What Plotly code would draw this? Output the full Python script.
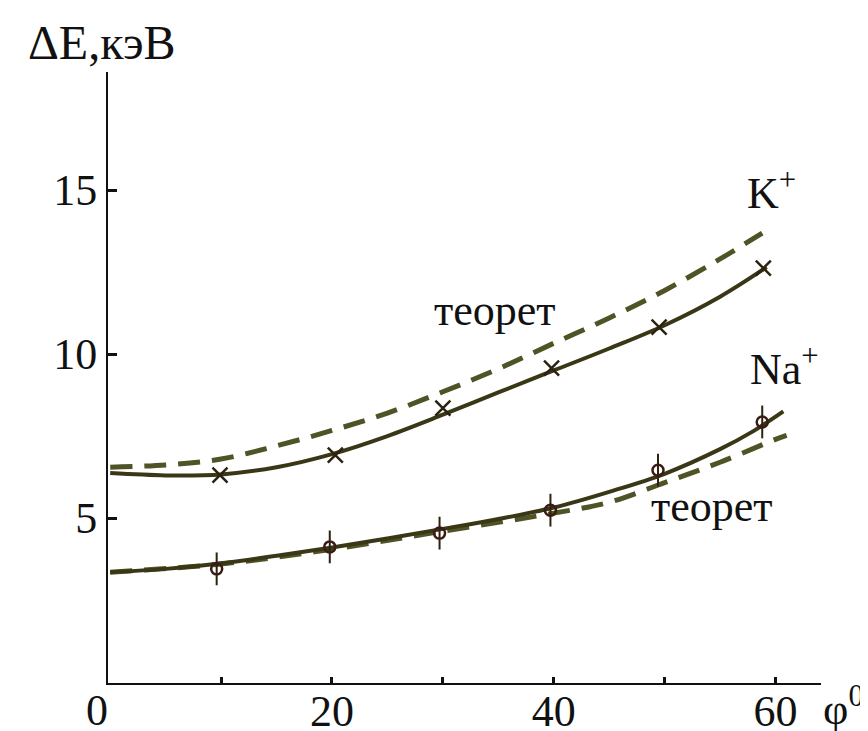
import plotly.graph_objects as go

# ---- data ----
k_exp_x = [9.9, 20.3, 30.0, 39.8, 49.5, 58.9]
k_exp_y = [6.31, 6.92, 8.35, 9.57, 10.82, 12.62]

k_fit_x = [0, 5, 10, 15, 20, 25, 30, 35, 40, 45, 50, 55, 59.2]
k_fit_y = [6.37, 6.3, 6.33, 6.55, 6.95, 7.5, 8.15, 8.83, 9.5, 10.17, 10.88, 11.75, 12.65]

k_theory_x = [0, 5, 10, 15, 20, 25, 30, 35, 40, 45, 50, 55, 58.8]
k_theory_y = [6.55, 6.62, 6.8, 7.2, 7.67, 8.2, 8.85, 9.55, 10.33, 11.1, 11.94, 12.9, 13.69]

na_exp_x = [9.6, 19.8, 29.7, 39.7, 49.4, 58.8]
na_exp_y = [3.45, 4.12, 4.54, 5.24, 6.46, 7.93]
na_err = [0.5, 0.5, 0.5, 0.5, 0.5, 0.5]

na_fit_x = [0, 5, 10, 15, 20, 25, 30, 35, 40, 45, 50, 55, 58, 60.7]
na_fit_y = [3.35, 3.45, 3.62, 3.85, 4.1, 4.38, 4.67, 4.97, 5.32, 5.8, 6.35, 7.1, 7.65, 8.25]

na_theory_x = [0, 10, 20, 30, 40, 45, 50, 55, 60, 61]
na_theory_y = [3.35, 3.6, 4.05, 4.6, 5.15, 5.48, 6.08, 6.7, 7.4, 7.52]

x_tick_vals = [10, 20, 30, 40, 50, 60]
x_tick_text = ["", "20", "", "40", "", "60"]
y_tick_vals = [5, 10, 15]
y_tick_text = ["5", "10", "15"]

# ---- style ----
W, H = 868, 731          # screenshot size
OFF = 8                  # page body margin
L, R, T, B = 108, 47, 72, 48   # plot area edges in screenshot pixels
SERIF = "Liberation Serif, Times New Roman, serif"
SOLID = "#3a3716"
DASH = "#4f5326"
MARK = "#2b2210"
FS = 44


def px(xp, yp):
    """screenshot pixel -> paper coords"""
    return (xp - L) / (W - L - R), (H - B - yp) / (H - T - B)


fig = go.Figure()

fig.add_trace(go.Scatter(x=k_theory_x, y=k_theory_y, mode="lines", line_shape="spline",
                         line=dict(color=DASH, width=5, dash="22px,12px"), hoverinfo="skip"))
fig.add_trace(go.Scatter(x=k_fit_x, y=k_fit_y, mode="lines", line_shape="spline",
                         line=dict(color=SOLID, width=4), hoverinfo="skip"))
fig.add_trace(go.Scatter(x=na_theory_x, y=na_theory_y, mode="lines", line_shape="spline",
                         line=dict(color=DASH, width=5, dash="22px,12px"), hoverinfo="skip"))
fig.add_trace(go.Scatter(x=na_fit_x, y=na_fit_y, mode="lines", line_shape="spline",
                         line=dict(color=SOLID, width=4), hoverinfo="skip"))
fig.add_trace(go.Scatter(x=k_exp_x, y=k_exp_y, mode="markers",
                         marker=dict(symbol="x-thin", size=15, line=dict(color=MARK, width=2.5))))
fig.add_trace(go.Scatter(x=na_exp_x, y=na_exp_y, mode="markers",
                         marker=dict(symbol="circle-open", size=11, color="#3a1c14",
                                     line=dict(color="#3a1c14", width=2.5)),
                         error_y=dict(type="data", array=na_err, width=0, thickness=2,
                                      color="#2b2210")))

annots = []


def add_text(text, xp, yp, size=FS, xanchor="center", yanchor="middle"):
    ax, ay = px(xp, yp)
    annots.append(dict(text=text, x=ax, y=ay, xref="paper", yref="paper", showarrow=False,
                       xanchor=xanchor, yanchor=yanchor,
                       font=dict(family=SERIF, size=size, color="#111111")))


add_text("ΔE,кэВ", 102, 42, size=48)
add_text("φ<sup>0</sup>", 866, 706, size=FS, xanchor="right")
add_text("K<sup>+</sup>", 745, 190, size=FS, xanchor="left")
add_text("Na<sup>+</sup>", 748, 366, size=FS, xanchor="left")
add_text("теорет", 495, 310, size=FS)
add_text("теорет", 712, 506, size=FS)
add_text("0", 97, 710, size=FS)

fig.update_layout(
    width=W - OFF, height=H - OFF,
    margin=dict(l=L - OFF, r=R, t=T - OFF, b=B, pad=0, autoexpand=False),
    paper_bgcolor="white", plot_bgcolor="white",
    showlegend=False,
    annotations=annots,
    font=dict(family=SERIF, size=FS, color="#111111"),
)

fig.update_xaxes(range=[-0.2, 64.1], showgrid=False, zeroline=False, automargin=False,
                 showline=True, linecolor="#111111", linewidth=2,
                 ticks="inside", ticklen=6, tickwidth=3, tickcolor="#111111",
                 tickvals=x_tick_vals, ticktext=x_tick_text, ticklabelstandoff=-12,
                 tickfont=dict(family=SERIF, size=FS, color="#111111"))
fig.update_yaxes(range=[-0.03, 18.6], showgrid=False, zeroline=False, automargin=False,
                 showline=True, linecolor="#111111", linewidth=2,
                 ticks="inside", ticklen=9, tickwidth=3, tickcolor="#111111",
                 tickvals=y_tick_vals, ticktext=y_tick_text,
                 tickfont=dict(family=SERIF, size=FS, color="#111111"))

fig.write_html("out.html")
